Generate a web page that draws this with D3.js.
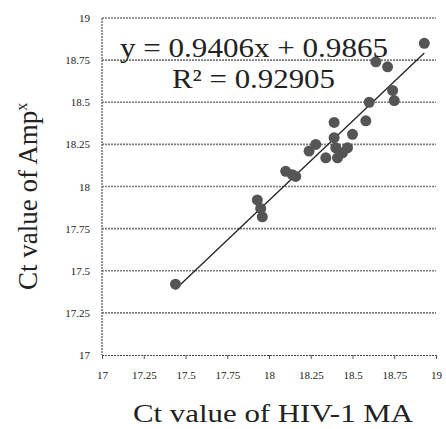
<!DOCTYPE html>
<html lang="en">
<head>
    <meta charset="UTF-8">
    <title>Ct scatter</title>
    <script src="https://d3js.org/d3.v7.min.js"></script>
    <style>
        body { margin: 0; background: #fff; }
        svg { display: block; }
        text { font-family: "Liberation Serif", "DejaVu Serif", serif; fill: #222; }
    </style>
</head>
<body>
    <svg width="446" height="429"></svg>

    <script>
        // data
        const ctHIV = [17.44, 17.93, 17.95, 17.96, 18.10, 18.14, 18.16, 18.24, 18.28, 18.34,
                       18.39, 18.39, 18.40, 18.41, 18.44, 18.47, 18.50, 18.58, 18.60, 18.64,
                       18.71, 18.74, 18.75, 18.93];
        const ctAmp = [17.42, 17.92, 17.87, 17.82, 18.09, 18.07, 18.06, 18.21, 18.25, 18.17,
                       18.38, 18.29, 18.23, 18.17, 18.20, 18.23, 18.31, 18.39, 18.50, 18.74,
                       18.71, 18.57, 18.51, 18.85];
        const ticks = [17, 17.25, 17.5, 17.75, 18, 18.25, 18.5, 18.75, 19];
        const slope = 0.9406, intercept = 0.9865;

        const svg = d3.select('svg');

        const x = d3.scaleLinear().domain([17, 19]).range([102, 436]);
        const y = d3.scaleLinear().domain([17, 19]).range([355, 18]);

        // horizontal grid lines
        svg.selectAll('.grid')
            .data(ticks.slice(1))
            .enter().append('line')
            .attr('x1', x(17)).attr('x2', x(19))
            .attr('y1', d => y(d)).attr('y2', d => y(d))
            .attr('stroke', '#7a7a7a')
            .attr('stroke-width', 1.6)
            .attr('stroke-dasharray', '2,1');

        // left axis line (dotted)
        svg.append('line')
            .attr('x1', x(17)).attr('x2', x(17))
            .attr('y1', y(19)).attr('y2', y(17))
            .attr('stroke', '#7a7a7a')
            .attr('stroke-width', 1.6)
            .attr('stroke-dasharray', '2,1');

        // bottom axis
        const xAxis = d3.axisBottom(x).tickValues(ticks).tickSize(4).tickFormat(d => d);
        const gx = svg.append('g').attr('transform', `translate(0,${y(17)})`).call(xAxis);
        gx.select('.domain').attr('stroke', '#444').attr('stroke-dasharray', '2,1');
        gx.selectAll('.tick line').attr('stroke', '#555');
        gx.selectAll('.tick text')
            .attr('y', 16)
            .style('font-size', '11px')
            .style('font-family', '"Liberation Serif", serif')
            .attr('fill', '#222');

        // left tick labels
        const yAxis = d3.axisLeft(y).tickValues(ticks).tickSize(0).tickPadding(12).tickFormat(d => d);
        const gy = svg.append('g').attr('transform', `translate(${x(17)},0)`).call(yAxis);
        gy.select('.domain').remove();
        gy.selectAll('.tick text')
            .style('font-size', '11px')
            .style('font-family', '"Liberation Serif", serif')
            .attr('fill', '#222');

        // trend line
        const x0 = d3.min(ctHIV), x1 = d3.max(ctHIV);
        svg.append('line')
            .attr('x1', x(x0)).attr('y1', y(slope * x0 + intercept))
            .attr('x2', x(x1)).attr('y2', y(slope * x1 + intercept))
            .attr('stroke', '#222')
            .attr('stroke-width', 1.3);

        // points
        svg.selectAll('.pt')
            .data(ctHIV.map((v, i) => [v, ctAmp[i]]))
            .enter().append('circle')
            .attr('cx', d => x(d[0]))
            .attr('cy', d => y(d[1]))
            .attr('r', 5.5)
            .attr('fill', '#555');

        // equation text
        svg.append('text')
            .attr('x', 120).attr('y', 57)
            .attr('textLength', 268).attr('lengthAdjust', 'spacingAndGlyphs')
            .style('font-size', '27px')
            .text('y = 0.9406x + 0.9865');
        svg.append('text')
            .attr('x', 172).attr('y', 88)
            .attr('textLength', 163).attr('lengthAdjust', 'spacingAndGlyphs')
            .style('font-size', '27px')
            .text('R² = 0.92905');

        // axis titles
        svg.append('text')
            .attr('x', 133).attr('y', 422)
            .attr('textLength', 280).attr('lengthAdjust', 'spacingAndGlyphs')
            .style('font-size', '26px')
            .text('Ct value of HIV-1 MA');

        const yt = svg.append('text')
            .attr('transform', 'translate(37,290) rotate(-90)')
            .style('font-size', '27px');
        yt.append('tspan').text('Ct value of Amp');
        yt.append('tspan').attr('dy', -10).style('font-size', '16px').text('x');
    </script>
</body>
</html>
